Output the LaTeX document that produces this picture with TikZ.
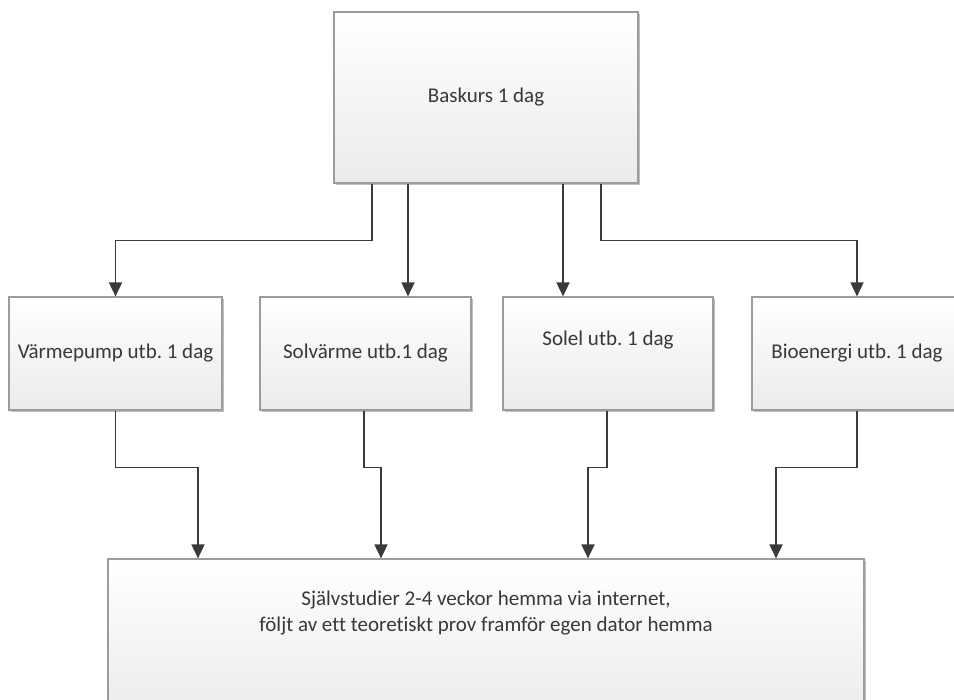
\documentclass[tikz,border=0pt]{standalone}
\usepackage{fontspec}
\setmainfont{Carlito}[Ligatures=NoCommon]
\usetikzlibrary{arrows.meta,shadows}
\frenchspacing
\definecolor{boxline}{HTML}{9C9C9C}
\definecolor{boxbot}{HTML}{EBEBEB}
\definecolor{connc}{HTML}{3A3A3A}
\definecolor{txtc}{HTML}{383838}
\tikzset{
  box/.style={rectangle, draw=boxline, line width=1.2pt, top color=white, bottom color=boxbot,
    inner sep=0pt, text=txtc, font=\fontsize{21}{26}\selectfont, align=center,
    drop shadow={shadow xshift=1.8pt, shadow yshift=-1.8pt, fill=black, opacity=0.25}},
  lbl/.style={inner sep=0pt, text=txtc, font=\fontsize{21}{26}\selectfont, align=center},
  conn/.style={draw=connc, line width=1.8pt, -{Triangle[width=13pt,length=14pt]}}
}
\begin{document}
\begin{tikzpicture}[x=1pt,y=-1pt]
\useasboundingbox (0,0) rectangle (954,700);
\clip (0,0) rectangle (954,700);
\node[box, minimum width=304pt, minimum height=171pt] (top) at (486,97.5) {Baskurs 1 dag};
\node[box, minimum width=213pt, minimum height=113pt] (b1) at (115.5,353.5) {Värmepump utb. 1 dag};
\node[box, minimum width=211pt, minimum height=113pt] (b2) at (365.5,353.5) {Solvärme utb.1 dag};
\node[box, minimum width=210pt, minimum height=113pt] (b3) at (608,353.5) {};
\node[lbl] (t3) at (608,340) {Solel utb. 1 dag};
\node[box, minimum width=210pt, minimum height=113pt] (b4) at (857,353.5) {Bioenergi utb. 1 dag};
\node[box, minimum width=756pt, minimum height=161pt] (bot) at (486,639.5) {};
\node[lbl] (tb) at (486,613) {Självstudier 2-4 veckor hemma via internet,\\följt av ett teoretiskt prov framför egen dator hemma};
% top to row
\draw[conn] (top.south -| 372,0) -- ++(0,57) -| (b1.north);
\draw[conn] (top.south -| 408,0) -- (b2.north -| 408,0);
\draw[conn] (top.south -| 563,0) -- (b3.north -| 563,0);
\draw[conn] (top.south -| 601,0) -- ++(0,57) -| (b4.north);
% row to bottom
\draw[conn] (b1.south) -- ++(0,57) -| (bot.north -| 198,0);
\draw[conn] (b2.south -| 364,0) -- ++(0,57) -| (bot.north -| 381,0);
\draw[conn] (b3.south -| 607,0) -- ++(0,57) -| (bot.north -| 588,0);
\draw[conn] (b4.south) -- ++(0,57) -| (bot.north -| 776,0);
\end{tikzpicture}
\end{document}
